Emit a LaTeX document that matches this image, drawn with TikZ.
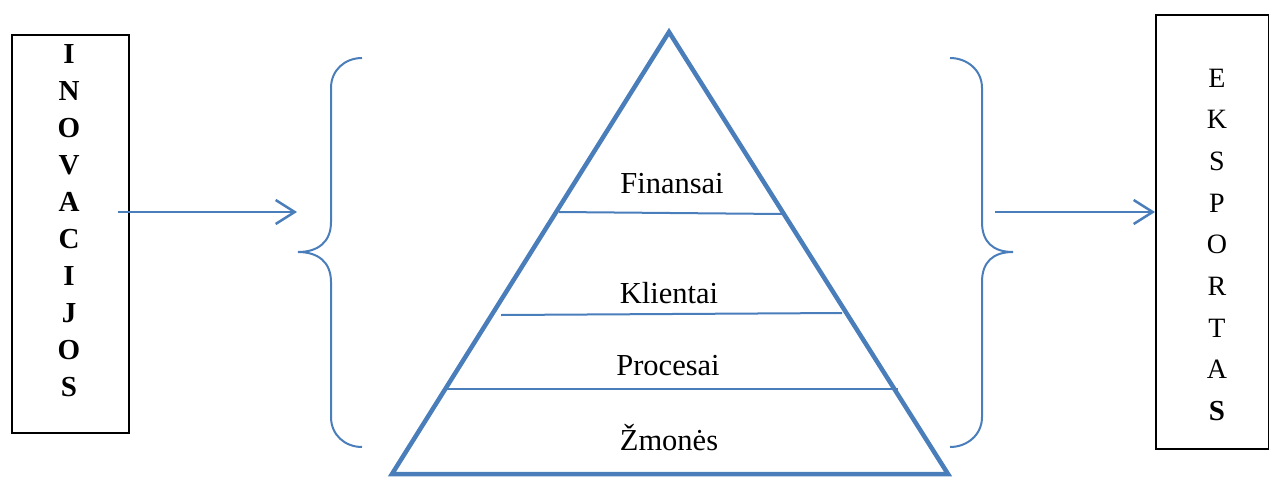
\documentclass[tikz,border=0pt]{standalone}
\usepackage{fontspec}
\setmainfont{Liberation Serif}
\usetikzlibrary{arrows.meta}
\definecolor{pyrblue}{RGB}{74,126,187}
\begin{document}
\begin{tikzpicture}[x=1pt,y=-1pt,
  frame/.style={draw=black,line width=2pt,inner sep=0pt,anchor=north west},
  letter/.style={anchor=base,inner sep=0pt,font=\fontsize{28}{30}\selectfont},
  bold letter/.style={anchor=base,inner sep=0pt,font=\fontsize{29}{30}\selectfont\bfseries},
  level/.style={anchor=base,inner sep=0pt,font=\fontsize{30.5}{36}\selectfont},
  outline/.style={draw=pyrblue,line width=4.5pt,line join=miter},
  divider/.style={draw=pyrblue,line width=2pt},
  brace/.style={draw=pyrblue,line width=2pt},
  flow/.style={draw=pyrblue,line width=2.5pt,-{Straight Barb[length=19pt,width=24pt]}}]
\useasboundingbox (0,0) rectangle (1269,477);

% side boxes
\node[frame,minimum width=117pt,minimum height=398pt] (inov) at (11,34) {};
\node[frame,minimum width=113pt,minimum height=434pt] (eksp) at (1155,14) {};

% vertical words
\foreach \ch [count=\i from 0] in {I,N,O,V,A,C,I,J,O,S}
  \node[bold letter] (in\i) at (69,{63+37*\i}) {\ch};
\foreach \ch [count=\i from 0] in {E,K,S,P,O,R,T,A}
  \node[letter] (ek\i) at (1217,{87+41.7*\i}) {\ch};
\node[bold letter] (ek8) at (1217,420.6) {S};

% pyramid
\coordinate (apex) at (669,32);
\coordinate (bl) at (392,474);
\coordinate (br) at (948,474);
\draw[outline] (apex) -- (bl) -- (br) -- cycle;

\coordinate (f1) at (559,212); \coordinate (f2) at (782,214);
\coordinate (k1) at (501,315); \coordinate (k2) at (842,313);
\coordinate (p1) at (447,389); \coordinate (p2) at (898,389);
\draw[divider] (f1) -- (f2);
\draw[divider] (k1) -- (k2);
\draw[divider] (p1) -- (p2);

\node[level] (fin) at (672,193) {Finansai};
\node[level] (kli) at (669,303) {Klientai};
\node[level] (pro) at (668,375) {Procesai};
\node[level] (zmo) at (669,450) {Žmonės};

% braces
\coordinate (ltip) at (298,252);
\coordinate (rtip) at (1013,252);
\draw[brace] (362,58) .. controls (345,58) and (331,70) .. (331,88)
  -- (331,222) .. controls (331,242) and (318,252) .. (ltip)
  .. controls (318,252) and (331,262) .. (331,282)
  -- (331,417) .. controls (331,435) and (345,447) .. (362,447);
\draw[brace] (950,58) .. controls (967,58) and (982,70) .. (982,88)
  -- (982,222) .. controls (982,242) and (993,252) .. (rtip)
  .. controls (993,252) and (982,262) .. (982,282)
  -- (982,417) .. controls (982,435) and (967,447) .. (950,447);

% arrows
\coordinate (lstart) at (118,212);
\coordinate (lend) at (297,212);
\coordinate (rstart) at (995,212);
\draw[flow] (lstart) -- (lend);
\draw[flow] (rstart) -- (eksp.west |- rstart);
\end{tikzpicture}
\end{document}
